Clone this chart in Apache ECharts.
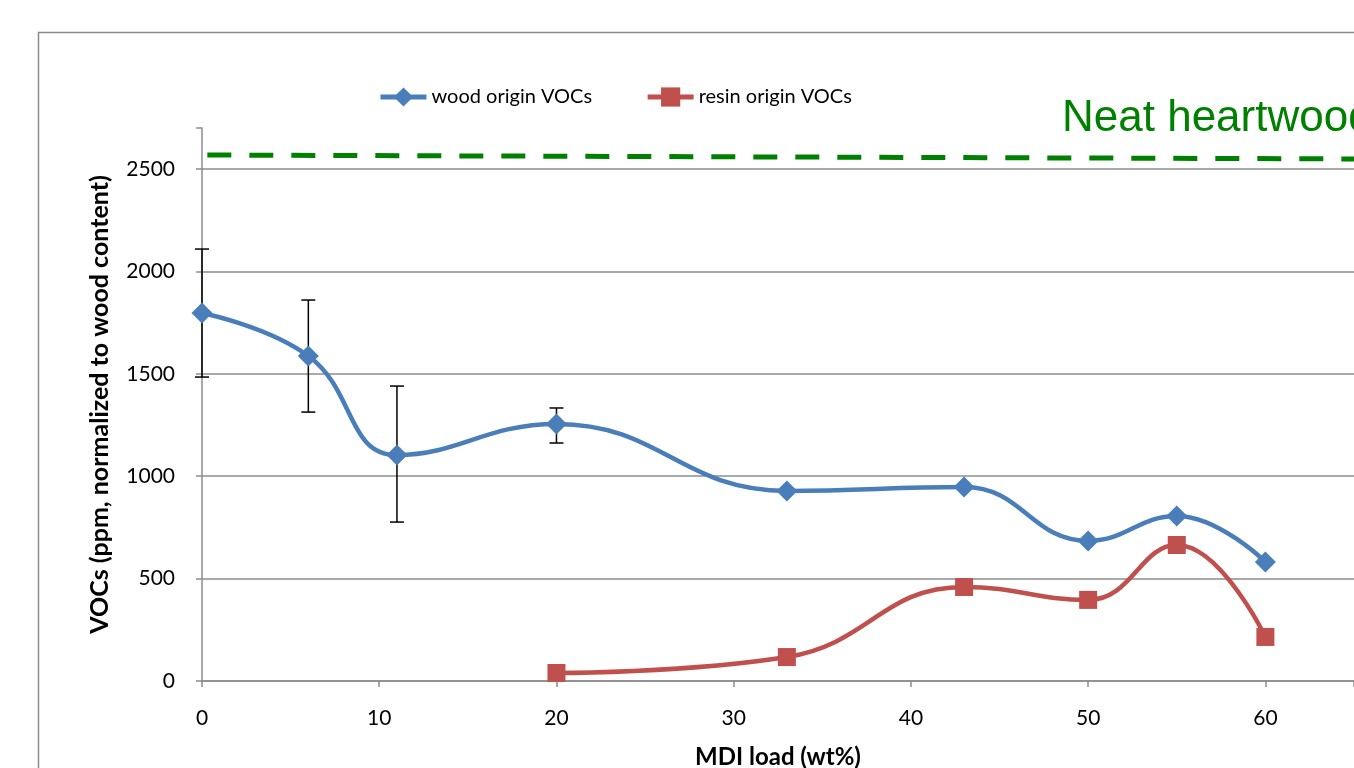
<!DOCTYPE html>
<html>
<head>
  <meta charset="utf-8" />
  <title>VOCs vs MDI load</title>
  <script src="https://cdn.jsdelivr.net/npm/echarts@6/dist/echarts.min.js"></script>
</head>
<body style="margin:0;background:#fff;">
<div id="main" style="width:1354px;height:768px;"></div>
<script type="text/javascript">
  // values
  var mdiLoad = [0, 6, 11, 20, 33, 43, 50, 55, 60];
  var woodVOCs = [1797, 1587, 1103, 1255, 928, 947, 684, 806, 581];
  var resinLoad = [20, 33, 43, 50, 55, 60];
  var resinVOCs = [39, 117, 459, 396, 664, 215];
  // error bars on the wood series (low, high)
  var errLoad = [0, 6, 11, 20];
  var errLow = [1484, 1313, 776, 1162];
  var errHigh = [2109, 1860, 1440, 1333];
  // neat heartwood reference line
  var neatX = [0.3, 65];
  var neatY = [2568, 2549];

  function pairs(xs, ys) {
    return xs.map(function (x, i) { return [x, ys[i]]; });
  }

  var myChart = echarts.init(document.getElementById('main'));
  var font = 'Lato, sans-serif';

  var option = {
    backgroundColor: '#fff',
    animation: false,
    textStyle: { fontFamily: font },
    graphic: [
      {
        type: 'rect',
        shape: { x: 38.5, y: 32.5, width: 1400, height: 800 },
        style: { fill: 'none', stroke: '#8c8c8c', lineWidth: 1.5 },
        silent: true
      },
      {
        type: 'text',
        x: 1062,
        y: 97,
        style: {
          text: 'Neat heartwood',
          fill: '#008000',
          font: '44px "Liberation Sans", Arial, sans-serif',
          textVerticalAlign: 'top'
        },
        silent: true
      }
    ],
    legend: {
      top: 82,
      left: 373,
      itemWidth: 46,
      itemHeight: 24,
      itemGap: 53,
      lineStyle: { width: 5 },
      textStyle: { fontSize: 20, color: '#000', fontFamily: font },
      data: ['wood origin VOCs', 'resin origin VOCs']
    },
    grid: { left: 202, right: 0, top: 128, bottom: 87, outerBoundsMode: 'none' },
    xAxis: {
      type: 'value',
      min: 0,
      max: 65,
      interval: 10,
      name: 'MDI load (wt%)',
      nameLocation: 'middle',
      nameGap: 64,
      nameTextStyle: { fontSize: 24, fontWeight: 'bold', color: '#000', fontFamily: font },
      axisLine: { lineStyle: { color: '#8c8c8c', width: 1.5 } },
      axisTick: { inside: false, length: 6, lineStyle: { color: '#8c8c8c', width: 1.5 } },
      axisLabel: {
        fontSize: 21, color: '#000', margin: 27,
        formatter: function (v) { return v > 60 ? '' : v; }
      },
      splitLine: { show: false }
    },
    yAxis: {
      type: 'value',
      min: 0,
      max: 2700,
      interval: 500,
      name: 'VOCs (ppm, normalized to wood content)',
      nameLocation: 'middle',
      nameGap: 90,
      nameTextStyle: { fontSize: 25, fontWeight: 'bold', color: '#000', fontFamily: font },
      axisLine: { show: true, lineStyle: { color: '#8c8c8c', width: 1.5 } },
      axisTick: { show: true, length: 6, lineStyle: { color: '#8c8c8c', width: 1.5 } },
      axisLabel: {
        fontSize: 21, color: '#000', margin: 27,
        formatter: function (v) { return v > 2500 ? '' : v; }
      },
      splitLine: { show: true, showMaxLine: false, lineStyle: { color: '#8c8c8c', width: 1.5 } }
    },
    series: [
      {
        name: 'neat',
        type: 'line',
        data: pairs(neatX, neatY),
        symbol: 'none',
        lineStyle: { color: '#008000', width: 5, type: [24, 18] },
        z: 1
      },
      {
        name: 'errors',
        type: 'custom',
        data: errLoad.map(function (x, i) { return [x, errLow[i], errHigh[i]]; }),
        renderItem: function (params, api) {
          var lo = api.coord([api.value(0), api.value(1)]);
          var hi = api.coord([api.value(0), api.value(2)]);
          var cap = 7;
          var st = { stroke: '#000', lineWidth: 1.5 };
          return {
            type: 'group',
            children: [
              { type: 'line', shape: { x1: lo[0], y1: lo[1], x2: hi[0], y2: hi[1] }, style: st },
              { type: 'line', shape: { x1: lo[0] - cap, y1: lo[1], x2: lo[0] + cap, y2: lo[1] }, style: st },
              { type: 'line', shape: { x1: hi[0] - cap, y1: hi[1], x2: hi[0] + cap, y2: hi[1] }, style: st }
            ]
          };
        },
        z: 2
      },
      {
        name: 'wood origin VOCs',
        type: 'line',
        data: pairs(mdiLoad, woodVOCs),
        smooth: 0.45,
        symbol: 'diamond',
        symbolSize: 21,
        itemStyle: { color: '#4a7ebb' },
        lineStyle: { color: '#4a7ebb', width: 4.5 },
        z: 3
      },
      {
        name: 'resin origin VOCs',
        type: 'line',
        data: pairs(resinLoad, resinVOCs),
        smooth: 0.45,
        symbol: 'rect',
        symbolSize: 18,
        itemStyle: { color: '#c0504d' },
        lineStyle: { color: '#c0504d', width: 4.5 },
        z: 3
      }
    ]
  };
  myChart.setOption(option);
</script>
</body>
</html>
